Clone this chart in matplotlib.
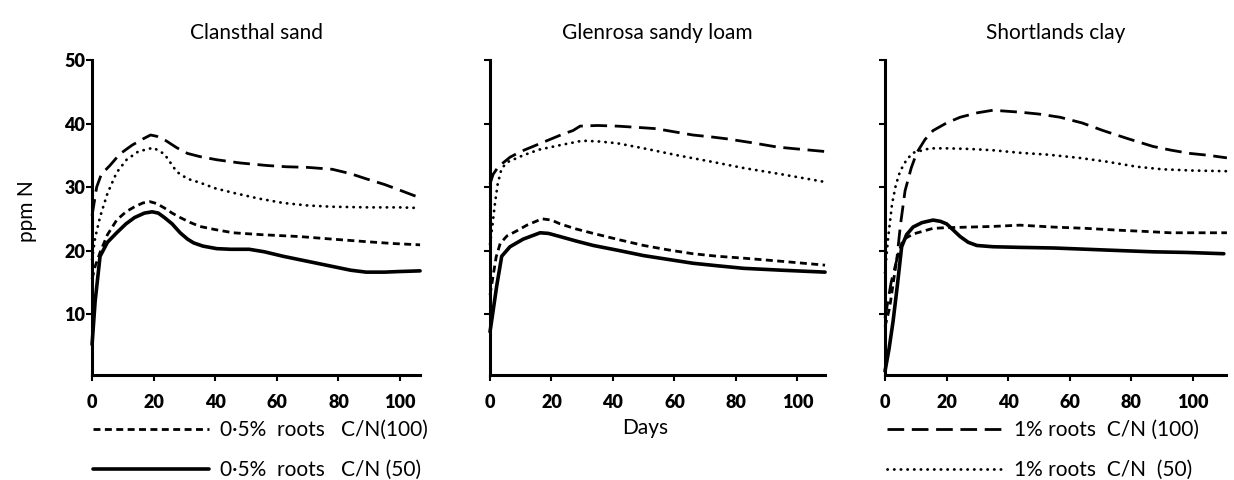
import numpy as np
import matplotlib
matplotlib.use('Agg')
import matplotlib.pyplot as plt

plt.rcParams['font.family'] = ['Lato', 'DejaVu Sans']
plt.rcParams['lines.scale_dashes'] = False

# Panel titles
titles = ['Clansthal sand', 'Glenrosa sandy loam', 'Shortlands clay']

# Clansthal sand
cl_long_days = [0, 1.5, 3, 5.8, 9, 13, 16.6, 19, 21, 24, 27.5, 31, 35, 40.5, 48, 56.7, 63, 70, 78, 84, 89, 95, 100, 106.5]
cl_long_vals = [25.5, 30, 32, 33.4, 35.2, 36.6, 37.6, 38.2, 38, 37.3, 36.2, 35.3, 34.8, 34.3, 33.8, 33.4, 33.2, 33.1, 32.8, 32.1, 31.3, 30.4, 29.5, 28.3]
cl_dot_days = [0, 1, 2.6, 5, 8, 11.2, 15, 19.9, 23.5, 27.5, 31, 35, 40, 45.8, 54, 62, 70, 78, 90, 100, 106.5]
cl_dot_vals = [18.6, 22, 25.3, 29, 32.3, 34.3, 35.6, 36.2, 35.2, 32.4, 31.3, 30.7, 29.8, 29.1, 28.2, 27.5, 27.1, 26.9, 26.8, 26.8, 26.7]
cl_short_days = [0, 1, 2.6, 5, 8, 11, 13.8, 16.5, 18.8, 21, 23.5, 26, 28.6, 32, 35, 40, 45.8, 55, 67.5, 78, 89, 98, 106.5]
cl_short_vals = [15.5, 17.5, 19.7, 22.5, 24.8, 26.1, 26.9, 27.5, 27.7, 27.4, 26.7, 25.9, 25.2, 24.4, 23.8, 23.3, 22.8, 22.5, 22.2, 21.8, 21.4, 21.1, 20.9]
cl_solid_days = [0, 1, 2.6, 5, 8, 11, 13.8, 17, 19.5, 21.5, 23.5, 26, 28.6, 31, 33, 36, 40.5, 45, 51, 56, 62, 70, 78, 84, 89, 95, 100, 106.5]
cl_solid_vals = [5.2, 12, 19.1, 21.3, 22.8, 24.2, 25.2, 25.9, 26.1, 25.9, 25.2, 24.2, 22.8, 21.8, 21.2, 20.7, 20.3, 20.2, 20.2, 19.8, 19.1, 18.3, 17.5, 16.9, 16.6, 16.6, 16.7, 16.8]

# Glenrosa sandy loam
gl_long_days = [0, 1, 2.7, 6.5, 10, 15, 20, 24, 27, 29.3, 35, 41.4, 48, 54, 60, 66, 72, 77, 85, 93.5, 100, 109]
gl_long_vals = [30.5, 32, 33.2, 34.7, 35.6, 36.6, 37.6, 38.4, 38.9, 39.6, 39.7, 39.6, 39.4, 39.2, 38.7, 38.2, 37.9, 37.6, 37, 36.3, 36, 35.6]
gl_dot_days = [0, 0.8, 1.6, 2.5, 3.8, 6, 10.8, 16, 22.8, 30, 35, 41.4, 50, 61, 72, 82.5, 95, 109]
gl_dot_vals = [21, 24, 27.4, 30.5, 33, 34, 35, 35.9, 36.6, 37.3, 37.2, 36.9, 36.1, 35, 34, 33, 32, 30.8]
gl_short_days = [0, 1, 2, 3.3, 5.5, 8.7, 12, 16.9, 20, 22.8, 28, 33.6, 42, 50, 58, 66, 74, 82.5, 95, 109]
gl_short_vals = [13, 16, 19, 21.1, 22.3, 23.1, 24, 25, 24.8, 24.2, 23.4, 22.7, 21.7, 20.8, 20.1, 19.5, 19.1, 18.8, 18.3, 17.7]
gl_solid_days = [0, 1, 2.2, 3.8, 6.5, 10.8, 16.3, 19, 22.8, 28, 33.6, 42, 50, 58, 66, 74, 82.5, 95, 109]
gl_solid_vals = [7.2, 10.5, 14.5, 19.1, 20.6, 21.8, 22.8, 22.7, 22.2, 21.5, 20.8, 20, 19.2, 18.6, 18, 17.6, 17.2, 16.9, 16.6]

# Shortlands clay
sh_long_days = [0, 2, 3.8, 5, 6.5, 8.5, 10.3, 13, 15.6, 20, 24.4, 30, 35, 43.8, 50, 56.8, 64, 70.8, 79, 87, 93, 99, 105, 111]
sh_long_vals = [9.4, 15, 18.5, 24, 29.4, 33, 35.4, 37.5, 38.9, 40.1, 41, 41.7, 42.1, 41.8, 41.5, 41, 40.1, 38.9, 37.6, 36.4, 35.8, 35.3, 35, 34.6]
sh_dot_days = [0, 1, 2.3, 3.5, 4.9, 7, 9.1, 14.6, 20, 27.6, 35, 43.8, 53, 63, 72, 81.8, 90, 100, 111]
sh_dot_vals = [16.5, 22, 27.4, 30.3, 32.5, 34.3, 35.4, 36.1, 36.1, 36, 35.8, 35.4, 35.1, 34.6, 34, 33.2, 32.8, 32.6, 32.5]
sh_short_days = [0, 1.5, 3, 3.8, 5, 5.8, 9.1, 15.6, 20, 27.6, 35, 43.8, 54.6, 65, 76, 85, 92.5, 100, 111]
sh_short_vals = [8, 11, 16, 18.6, 20.5, 21.7, 22.6, 23.5, 23.6, 23.7, 23.8, 24, 23.7, 23.5, 23.2, 23, 22.8, 22.8, 22.8]
sh_solid_days = [0, 1.3, 2.6, 4, 5.4, 7, 9.1, 12, 15.6, 18, 20, 22, 24.4, 27, 29.8, 35, 43.8, 55, 65.5, 76, 87, 98, 110]
sh_solid_vals = [1, 4.5, 8.8, 14.5, 20.6, 22.5, 23.7, 24.4, 24.8, 24.6, 24.2, 23.3, 22.2, 21.3, 20.8, 20.6, 20.5, 20.4, 20.2, 20, 19.8, 19.7, 19.5]

x_ticks = [0, 20, 40, 60, 80, 100]
y_ticks = [10, 20, 30, 40, 50]

labels = {
    'short': '0·5%  roots   C/N(100)',
    'solid': '0·5%  roots   C/N (50)',
    'long': '1% roots  C/N (100)',
    'dot': '1% roots  C/N  (50)',
}

# line styles for each series
styles = {
    'short': dict(color='black', lw=2.0, dashes=(5, 3.2), dash_capstyle='butt'),
    'solid': dict(color='black', lw=2.6, solid_capstyle='round'),
    'long': dict(color='black', lw=2.0, dashes=(12, 5.5), dash_capstyle='butt'),
    'dot': dict(color='black', lw=2.0, dashes=(0.2, 4.6), dash_capstyle='round'),
}

panels = [
    dict(long=(cl_long_days, cl_long_vals), dot=(cl_dot_days, cl_dot_vals),
         short=(cl_short_days, cl_short_vals), solid=(cl_solid_days, cl_solid_vals)),
    dict(long=(gl_long_days, gl_long_vals), dot=(gl_dot_days, gl_dot_vals),
         short=(gl_short_days, gl_short_vals), solid=(gl_solid_days, gl_solid_vals)),
    dict(long=(sh_long_days, sh_long_vals), dot=(sh_dot_days, sh_dot_vals),
         short=(sh_short_days, sh_short_vals), solid=(sh_solid_days, sh_solid_vals)),
]

fig = plt.figure(figsize=(12.34, 4.8), dpi=100)

rects = [[0.0746, 0.2188, 0.2658, 0.656],
         [0.3971, 0.2188, 0.2715, 0.656],
         [0.7172, 0.2188, 0.2763, 0.656]]
xmax = [106.5, 109, 110.7]

handles = {}
for i, (rect, pdata) in enumerate(zip(rects, panels)):
    ax = fig.add_axes(rect)
    for key in ['long', 'dot', 'short', 'solid']:
        d, v = pdata[key]
        ln, = ax.plot(d, v, clip_on=False, **styles[key])
        handles.setdefault(key, ln)
    ax.set_xlim(0, xmax[i])
    ax.set_ylim(0.4, 50)
    ax.set_xticks(x_ticks)
    ax.set_yticks(y_ticks)
    ax.set_xticklabels([str(t) for t in x_ticks], fontweight='heavy', fontsize=13)
    if i == 0:
        ax.set_yticklabels([str(t) for t in y_ticks], fontweight='heavy', fontsize=13)
    else:
        ax.set_yticklabels([])
    ax.tick_params(axis='x', length=4, width=1.5, pad=10)
    ax.tick_params(axis='y', length=4, width=1.5, pad=1)
    for s in ['top', 'right']:
        ax.spines[s].set_visible(False)
    for s in ['left', 'bottom']:
        ax.spines[s].set_linewidth(2.2)
    ax.set_title(titles[i], fontsize=15, pad=15)

fig.text(0.022, 0.56, 'ppm N', rotation=90, fontsize=15, ha='center', va='center')
fig.text(0.523, 0.108, 'Days', fontsize=15, ha='center', va='center')

leg_kw = dict(frameon=False, loc='upper left', fontsize=15, handlelength=5.6,
              handletextpad=0.5, borderpad=0, borderaxespad=0, labelspacing=0.95)
fig.legend([handles['short'], handles['solid']], [labels['short'], labels['solid']],
           bbox_to_anchor=(0.075, 0.125), **leg_kw)
fig.legend([handles['long'], handles['dot']], [labels['long'], labels['dot']],
           bbox_to_anchor=(0.719, 0.125), **leg_kw)

plt.savefig('out.png', dpi=100)
